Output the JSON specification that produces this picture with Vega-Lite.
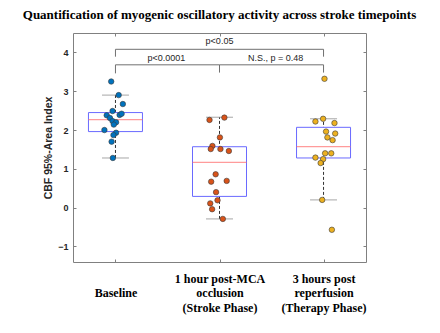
{
  "$schema": "https://vega.github.io/schema/vega-lite/v6.json",
  "width": 293,
  "height": 229,
  "autosize": "none",
  "padding": {"left": 73, "top": 33, "right": 74, "bottom": 71},
  "background": "white",
  "title": {
    "text": "Quantification of myogenic oscillatory activity across stroke timepoints",
    "font": "Liberation Serif",
    "fontSize": 13,
    "fontWeight": "bold",
    "color": "black",
    "anchor": "middle",
    "baseline": "alphabetic",
    "offset": 1
  },
  "config": {
    "view": {"stroke": "#808080", "strokeWidth": 1},
    "axis": {"grid": false, "domain": false, "tickColor": "#808080"}
  },
  "datasets": {
    "points": [
      {"group": "Baseline", "x": 0.959, "y": 3.25},
      {"group": "Baseline", "x": 1.031, "y": 2.90},
      {"group": "Baseline", "x": 1.071, "y": 2.67},
      {"group": "Baseline", "x": 0.972, "y": 2.49},
      {"group": "Baseline", "x": 0.916, "y": 2.38},
      {"group": "Baseline", "x": 0.947, "y": 2.31},
      {"group": "Baseline", "x": 1.040, "y": 2.39},
      {"group": "Baseline", "x": 1.059, "y": 2.42},
      {"group": "Baseline", "x": 0.972, "y": 2.23},
      {"group": "Baseline", "x": 1.006, "y": 2.20},
      {"group": "Baseline", "x": 0.984, "y": 2.14},
      {"group": "Baseline", "x": 0.894, "y": 2.00},
      {"group": "Baseline", "x": 1.006, "y": 1.93},
      {"group": "Baseline", "x": 0.981, "y": 1.87},
      {"group": "Baseline", "x": 0.963, "y": 1.70},
      {"group": "Baseline", "x": 0.975, "y": 1.28},
      {"group": "Stroke", "x": 1.904, "y": 2.26},
      {"group": "Stroke", "x": 2.047, "y": 2.32},
      {"group": "Stroke", "x": 2.004, "y": 1.81},
      {"group": "Stroke", "x": 1.932, "y": 1.59},
      {"group": "Stroke", "x": 1.916, "y": 1.51},
      {"group": "Stroke", "x": 2.009, "y": 1.51},
      {"group": "Stroke", "x": 2.090, "y": 1.46},
      {"group": "Stroke", "x": 1.963, "y": 0.86},
      {"group": "Stroke", "x": 1.920, "y": 0.67},
      {"group": "Stroke", "x": 2.069, "y": 0.69},
      {"group": "Stroke", "x": 1.967, "y": 0.40},
      {"group": "Stroke", "x": 1.981, "y": 0.19},
      {"group": "Stroke", "x": 1.911, "y": 0.11},
      {"group": "Stroke", "x": 1.929, "y": -0.04},
      {"group": "Stroke", "x": 2.032, "y": -0.29},
      {"group": "Therapy", "x": 3.009, "y": 3.32},
      {"group": "Therapy", "x": 2.996, "y": 2.29},
      {"group": "Therapy", "x": 2.922, "y": 2.22},
      {"group": "Therapy", "x": 3.105, "y": 2.18},
      {"group": "Therapy", "x": 3.024, "y": 1.96},
      {"group": "Therapy", "x": 3.112, "y": 1.91},
      {"group": "Therapy", "x": 3.037, "y": 1.81},
      {"group": "Therapy", "x": 3.087, "y": 1.74},
      {"group": "Therapy", "x": 3.015, "y": 1.40},
      {"group": "Therapy", "x": 3.074, "y": 1.40},
      {"group": "Therapy", "x": 2.922, "y": 1.29},
      {"group": "Therapy", "x": 2.996, "y": 1.25},
      {"group": "Therapy", "x": 2.972, "y": 1.15},
      {"group": "Therapy", "x": 2.987, "y": 0.20},
      {"group": "Therapy", "x": 3.080, "y": -0.57}
    ],
    "boxes": [
      {"g": 1, "lo": 1.28, "q1": 1.96, "med": 2.27, "q3": 2.45, "hi": 2.90},
      {"g": 2, "lo": -0.29, "q1": 0.29, "med": 1.165, "q3": 1.57, "hi": 2.33},
      {"g": 3, "lo": 0.20, "q1": 1.28, "med": 1.57, "q3": 2.07, "hi": 2.29}
    ],
    "brackets": [
      {"x": 1, "x2": 3, "y": 4.08, "y2": 4.08},
      {"x": 1, "x2": 1, "y": 4.08, "y2": 3.89},
      {"x": 3, "x2": 3, "y": 4.08, "y2": 3.89},
      {"x": 1, "x2": 2, "y": 3.68, "y2": 3.68},
      {"x": 1, "x2": 1, "y": 3.68, "y2": 3.46},
      {"x": 2, "x2": 2, "y": 3.68, "y2": 3.48},
      {"x": 2, "x2": 3, "y": 3.68, "y2": 3.68},
      {"x": 3, "x2": 3, "y": 3.68, "y2": 3.48}
    ],
    "labels": [
      {"x": 2.0, "y": 4.30, "text": "p<0.05"},
      {"x": 1.49, "y": 3.85, "text": "p<0.0001"},
      {"x": 2.54, "y": 3.85, "text": "N.S., p = 0.48"}
    ]
  },
  "resolve": {"axis": {"x": "independent", "y": "independent"}},
  "layer": [
    {
      "data": {"name": "boxes"},
      "mark": {"type": "rule", "color": "#333333", "strokeDash": [3, 2], "strokeWidth": 1},
      "encoding": {
        "x": {"field": "g", "type": "quantitative", "scale": {"domain": [0.64, 3.36], "nice": false, "zero": false},
          "axis": {"orient": "top", "labels": false, "tickSize": -3, "values": [1, 2, 3], "title": null}},
        "y": {"field": "lo", "type": "quantitative", "scale": {"domain": [-1.4, 4.5], "nice": false, "zero": false},
          "axis": {"orient": "right", "labels": false, "tickSize": -3, "values": [-1, 0, 1, 2, 3, 4], "title": null}},
        "y2": {"field": "hi"}
      }
    },
    {
      "data": {"name": "boxes"},
      "mark": {"type": "tick", "orient": "horizontal", "color": "#808080", "size": 27, "thickness": 1},
      "encoding": {
        "x": {"field": "g", "type": "quantitative", "axis": null},
        "y": {"field": "hi", "type": "quantitative", "axis": null}
      }
    },
    {
      "data": {"name": "boxes"},
      "mark": {"type": "tick", "orient": "horizontal", "color": "#808080", "size": 27, "thickness": 1},
      "encoding": {
        "x": {"field": "g", "type": "quantitative", "axis": null},
        "y": {"field": "lo", "type": "quantitative", "axis": null}
      }
    },
    {
      "data": {"name": "boxes"},
      "mark": {"type": "bar", "size": 54, "fill": "white", "stroke": "#6a6aff", "strokeWidth": 1},
      "encoding": {
        "x": {"field": "g", "type": "quantitative", "axis": null},
        "y": {"field": "q1", "type": "quantitative", "axis": null},
        "y2": {"field": "q3"}
      }
    },
    {
      "data": {"name": "boxes"},
      "mark": {"type": "tick", "orient": "horizontal", "color": "#ff7070", "size": 54, "thickness": 1.3},
      "encoding": {
        "x": {"field": "g", "type": "quantitative", "axis": null},
        "y": {"field": "med", "type": "quantitative", "axis": null}
      }
    },
    {
      "data": {"name": "brackets"},
      "mark": {"type": "rule", "color": "#707070", "strokeWidth": 1},
      "encoding": {
        "x": {"field": "x", "type": "quantitative", "axis": null},
        "x2": {"field": "x2"},
        "y": {"field": "y", "type": "quantitative", "axis": null},
        "y2": {"field": "y2"}
      }
    },
    {
      "data": {"name": "labels"},
      "mark": {"type": "text", "font": "Liberation Sans", "fontSize": 9, "color": "#262626", "baseline": "middle", "align": "center"},
      "encoding": {
        "x": {"field": "x", "type": "quantitative", "axis": null},
        "y": {"field": "y", "type": "quantitative", "axis": null},
        "text": {"field": "text"}
      }
    },
    {
      "data": {"name": "points"},
      "mark": {"type": "point", "filled": true, "shape": "circle", "size": 30, "stroke": "#3a3a3a", "strokeWidth": 0.6, "opacity": 1},
      "encoding": {
        "x": {"field": "x", "type": "quantitative",
          "axis": {"orient": "bottom", "values": [1, 2, 3], "tickSize": -3, "labelPadding": 14, "title": null,
            "labelExpr": "datum.value == 1 ? ['', 'Baseline'] : datum.value == 2 ? ['1 hour post-MCA', 'occlusion', '(Stroke Phase)'] : ['3 hours post', 'reperfusion', '(Therapy Phase)']",
            "labelFont": "Liberation Serif", "labelFontSize": 12, "labelFontWeight": "bold", "labelColor": "black",
            "labelLineHeight": 14.5, "labelOverlap": false, "labelFlush": false, "labelBaseline": "top"}},
        "y": {"field": "y", "type": "quantitative",
          "axis": {"orient": "left", "values": [-1, 0, 1, 2, 3, 4], "tickSize": -3, "labelPadding": 8,
            "labelFont": "Liberation Sans", "labelFontSize": 9, "labelFontWeight": "bold", "labelColor": "#262626",
            "title": "CBF 95%-Area Index", "titleFont": "Liberation Sans", "titleFontSize": 10.5, "titleFontWeight": "bold",
            "titleColor": "#262626", "titlePadding": 4}},
        "fill": {"field": "group", "type": "nominal", "legend": null,
          "scale": {"domain": ["Baseline", "Stroke", "Therapy"], "range": ["#0072BD", "#D95319", "#EDB120"]}}
      }
    }
  ]
}
